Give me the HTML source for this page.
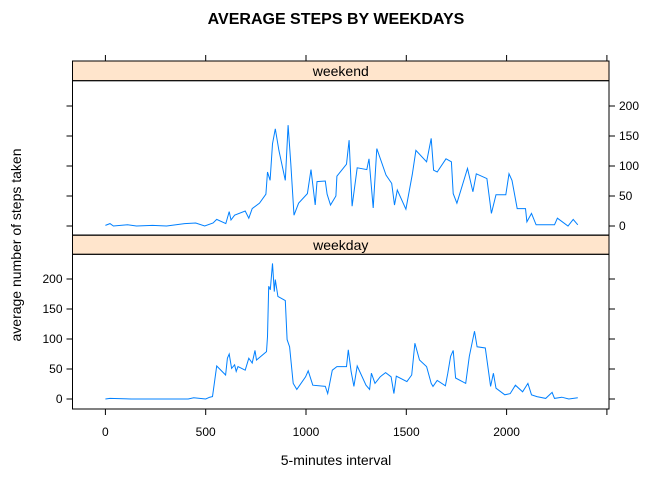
<!DOCTYPE html>
<html><head><meta charset="utf-8"><style>
body{margin:0;background:#fff}
svg text{font-family:"Liberation Sans",Arial,sans-serif}
</style></head><body>
<svg id="c" width="672" height="480" xmlns="http://www.w3.org/2000/svg">
<text x="336" y="24" text-anchor="middle" font-size="16" font-weight="bold">AVERAGE STEPS BY WEEKDAYS</text>
<text x="336" y="465" text-anchor="middle" font-size="14">5-minutes interval</text>
<text transform="translate(21,245) rotate(-90)" text-anchor="middle" font-size="14">average number of steps taken</text>
<g id="g"></g>
</svg>
<script>
const weekendX=[0,23,40,110,155,235,305,395,450,495,537,555,600,617,626,644,697,715,732,768,800,808,821,833,847,865,897,911,924,940,963,1007,1025,1046,1055,1096,1105,1122,1149,1154,1202,1215,1230,1255,1303,1314,1335,1353,1399,1427,1441,1455,1498,1530,1548,1601,1624,1636,1654,1698,1725,1734,1752,1805,1832,1849,1902,1924,1947,1996,2012,2027,2053,2094,2101,2124,2147,2239,2253,2306,2332,2355];
const weekendY=[1,4,0,2,0,1,0,4,5,0,5,11,4,24,10,18,25,13,29,38,53,90,76,137,162,126,76,168,104,18,38,54,94,35,74,75,53,35,50,83,103,143,33,97,94,112,30,129,85,71,35,60,28,86,126,107,146,93,90,112,107,54,38,96,57,87,79,21,52,52,87,76,29,29,7,21,2,2,13,0,11,2];
const weekdayX=[0,23,129,307,413,440,500,520,534,555,599,608,617,629,644,652,661,697,715,732,746,753,803,808,814,822,833,842,847,860,897,906,918,936,954,998,1011,1034,1096,1108,1131,1154,1202,1211,1225,1239,1255,1299,1317,1326,1344,1370,1397,1424,1438,1450,1503,1527,1543,1566,1601,1624,1633,1654,1695,1707,1721,1734,1746,1796,1814,1840,1853,1894,1920,1934,1947,1991,2018,2044,2080,2106,2124,2151,2195,2227,2239,2275,2310,2355];
const weekdayY=[0,1,0,0,0,2,0,3,4,55,40,68,75,51,57,46,54,48,68,60,81,65,79,104,188,182,226,179,199,171,164,99,87,26,16,37,47,23,21,9,48,54,54,82,46,21,55,23,16,43,26,37,44,37,9,38,29,40,93,65,54,26,21,31,22,43,71,81,35,26,71,113,87,85,21,43,18,7,9,23,12,26,7,4,1,11,1,3,0,2];
const xTicks=[0,500,1000,1500,2000];
const yTicks=[0,50,100,150,200];
const NS="http://www.w3.org/2000/svg";
const g=document.getElementById('g');
const L=72.5,R=609;
const xs=v=>105.4+v*0.2006;
function mk(t,a){const e=document.createElementNS(NS,t);for(const k in a)e.setAttribute(k,a[k]);g.appendChild(e);return e;}
const panels=[{name:'weekend',st:61,sb:80.7,pb:235,y0:226,X:weekendX,Y:weekendY,labRight:true},
{name:'weekday',st:235.3,sb:254.3,pb:409,y0:399,X:weekdayX,Y:weekdayY,labRight:false}];
panels.forEach(p=>{
 const ys=v=>p.y0-v*0.6;
 let s=mk('rect',{x:L,y:p.st,width:R-L,height:p.sb-p.st,fill:'#ffe5cc',stroke:'#000','stroke-width':1});
 
 let t=mk('text',{x:(L+R)/2,y:p.sb-4.5,'text-anchor':'middle','font-size':14});t.textContent=p.name;
 
 let b=mk('rect',{x:L,y:p.sb,width:R-L,height:p.pb-p.sb,fill:'none',stroke:'#000','stroke-width':1});
 
 yTicks.forEach(v=>{
  let a=mk('line',{x1:L-6,x2:L,y1:ys(v),y2:ys(v),stroke:'#000'});
  
  let c=mk('line',{x1:R,x2:R+6,y1:ys(v),y2:ys(v),stroke:'#000'});
  
  let l=mk('text',{x:p.labRight?R+10:L-10,y:ys(v)+4,'text-anchor':p.labRight?'start':'end','font-size':12});
  l.textContent=v;
 });
 let d='';p.X.forEach((x,i)=>{d+=(i?'L':'M')+xs(x).toFixed(1)+' '+ys(p.Y[i]).toFixed(1);});
 let ln=mk('path',{d:d,fill:'none',stroke:'#0080ff','stroke-width':1});
 
});
xTicks.concat([2500]).forEach(v=>{
 let a=mk('line',{x1:xs(v),x2:xs(v),y1:55,y2:61,stroke:'#000'});
 
 let c=mk('line',{x1:xs(v),x2:xs(v),y1:409,y2:415,stroke:'#000'});
 
});
xTicks.forEach(v=>{
 let l=mk('text',{x:xs(v),y:436,'text-anchor':'middle','font-size':12});l.textContent=v;
 
});
</script>
</body></html>
